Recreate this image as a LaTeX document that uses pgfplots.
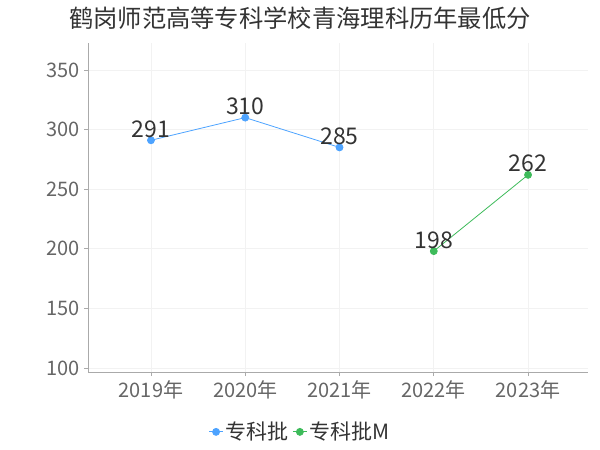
\documentclass[border=0pt]{standalone}
\usepackage{fontspec}
\setmainfont{Noto Sans CJK SC}
\usepackage{pgfplots}
\pgfplotsset{compat=1.18}
\definecolor{cblue}{HTML}{4DA3FF}
\definecolor{cgreen}{HTML}{3DBB5A}
\definecolor{tickc}{HTML}{666666}
\definecolor{textc}{HTML}{333333}
\definecolor{gridc}{HTML}{F2F2F2}
\definecolor{axc}{HTML}{AAAAAA}
\begin{document}
\begin{tikzpicture}[x=1pt,y=1pt]
\useasboundingbox (0,0) rectangle (600,450);
\node[text=textc, font=\fontsize{24.3}{26}\selectfont] at (300,432) {鹤岗师范高等专科学校青海理科历年最低分};
\begin{axis}[
  at={(88pt,78pt)}, anchor=south west,
  scale only axis, width=500pt, height=329pt,
  xmin=-0.668, xmax=4.636,
  ymin=96.6, ymax=372.6,
  xtick={0,1,2,3,4},
  xticklabels={2019年,2020年,2021年,2022年,2023年},
  ytick={100,150,200,250,300,350},
  axis x line*=bottom, axis y line*=left,
  axis line style={axc, line width=0.8pt, -},
  tick style={axc, line width=0.6pt},
  major tick length=4pt,
  tick align=outside,
  grid=major, grid style={gridc, line width=0.6pt},
  ticklabel style={text=tickc, font=\fontsize{20}{22}\selectfont},
  /pgf/number format/assume math mode=true,
  xticklabel style={yshift=-1pt},
  yticklabel style={xshift=-1pt},
  nodes near coords,
  every node near coord/.append style={text=textc, font=\fontsize{23}{25}\selectfont, anchor=south, yshift=-1pt},
  legend columns=2,
  legend style={at={(0.424,-0.182)}, anchor=center, draw=none, fill=none,
    font=\fontsize{21}{23}\selectfont, text=textc,
    /tikz/every even column/.append style={column sep=2pt}},
  legend image code/.code={
    \draw[#1, mark repeat=2, mark phase=2] plot coordinates {(0pt,0pt) (7pt,0pt) (14pt,0pt)};
  },
]
\addplot[cblue, line width=0.8pt, mark=*, mark size=3.5pt] coordinates {(0,291) (1,310) (2,285)};
\addlegendentry{专科批}
\addplot[cgreen, line width=0.8pt, mark=*, mark size=3.5pt] coordinates {(3,198) (4,262)};
\addlegendentry{专科批M}
\end{axis}
\end{tikzpicture}
\end{document}
